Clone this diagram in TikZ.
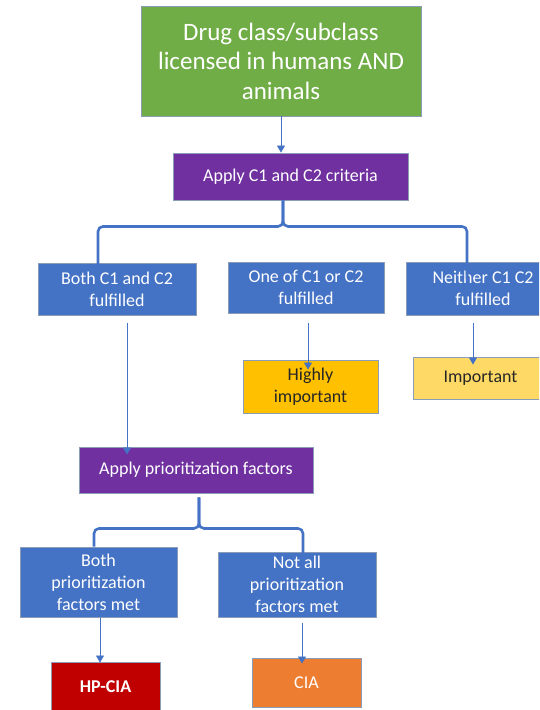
\documentclass[tikz,border=0pt]{standalone}
\usepackage{fontspec}
\setmainfont{Carlito}
\usepackage{tikz}
\usetikzlibrary{arrows.meta,positioning}
\definecolor{startG}{HTML}{70AD47}
\definecolor{stepP}{HTML}{7030A0}
\definecolor{caseB}{HTML}{4472C4}
\definecolor{edgeB}{HTML}{8A9CB8}
\definecolor{hiO}{HTML}{FFC000}
\definecolor{impY}{HTML}{FFD966}
\definecolor{hpR}{HTML}{C00000}
\definecolor{ciaO}{HTML}{ED7D31}

\begin{document}
\begin{tikzpicture}[x=1pt, y=-1pt, >={Triangle[length=7pt,width=8pt]},
  box/.style={rectangle, draw=edgeB, line width=0.9pt, align=center, inner sep=2pt,
              text=white, font=\fontsize{18}{22}\selectfont},
  start/.style={box, fill=startG, font=\fontsize{25}{29.5}\selectfont},
  apply/.style={box, fill=stepP},
  cond/.style={box, fill=caseB},
  result/.style={box, text=black!85},
  flow/.style={->, caseB, line width=0.8pt},
  brack/.style={caseB, line width=2.6pt, rounded corners=5pt}]
  \useasboundingbox (0,0) rectangle (539,710);
  \clip (0,0) rectangle (539,710);
  % top level
  \node[start, minimum width=280pt, minimum height=110pt] (drug) at (281,61)
    {Drug class/subclass\\licensed in humans AND\\animals};
  \node[apply, minimum width=235pt, minimum height=47pt] (crit) at (290.5,176.5)
    {Apply C1 and C2 criteria};
  \node[cond, minimum width=158pt, minimum height=52pt] (both) at (117,289)
    {Both C1 and C2\\fulfilled};
  \node[cond, minimum width=156pt, minimum height=51pt] (one) at (306,287.5)
    {One of C1 or C2\\fulfilled};
  \node[cond, minimum width=154pt, minimum height=53pt] (none) at (483,288.5)
    {Neither C1 C2\\fulfilled};
  \node[result, fill=hiO, minimum width=135pt, minimum height=53pt] (high) at (310.5,386.5)
    {Highly\\important};
  \node[result, fill=impY, minimum width=135pt, minimum height=42pt] (imp) at (480.5,378)
    {Important};
  % prioritization
  \node[apply, minimum width=234pt, minimum height=46pt] (prio) at (196,470)
    {Apply prioritization factors};
  \node[cond, minimum width=157pt, minimum height=70pt] (met) at (98.5,582)
    {Both\\prioritization\\factors met};
  \node[cond, minimum width=158pt, minimum height=65pt] (notmet) at (297,584.5)
    {Not all\\prioritization\\factors met};
  \node[box, fill=hpR, minimum width=109pt, minimum height=50pt] (hpcia) at (105.5,687)
    {\textbf{HP-CIA}};
  \node[box, fill=ciaO, minimum width=109pt, minimum height=49pt] (cia) at (306.5,682.5)
    {CIA};
  % brackets
  \coordinate (c1) at ([xshift=-7.5pt]crit.south);
  \coordinate (c1l) at ([xshift=-19pt,yshift=-18pt]both.north);
  \coordinate (c1r) at ([xshift=-16pt,yshift=-17pt]none.north);
  \draw[brack] (c1) -- ++(0,26) -| (c1l);
  \draw[brack] (c1) -- ++(0,26) -| (c1r);
  \coordinate (c2) at ([xshift=3pt,yshift=-4pt]prio.south);
  \coordinate (c2l) at ([xshift=-4.5pt]met.north);
  \coordinate (c2r) at ([xshift=6pt,yshift=-5pt]notmet.north);
  \draw[brack] (c2) -- ++(0,31) -| (c2l);
  \draw[brack] (c2) -- ++(0,31) -| (c2r);
  % arrows
  \draw[flow] (drug.south) -- (drug.south |- crit.north);
  \draw[flow] ([xshift=10pt,yshift=-8pt]both.south) -- ([xshift=10pt,yshift=-8pt]both.south |- prio.north);
  \draw[flow] ([xshift=2pt,yshift=-10pt]one.south) -- ([xshift=2pt,yshift=-10pt]one.south |- high.north);
  \draw[flow] ([xshift=-10pt,yshift=-8pt]none.south) -- ([xshift=-10pt,yshift=-8pt]none.south |- imp.north);
  \draw[flow] ([xshift=1.5pt,yshift=-1pt]met.south) -- ([xshift=1.5pt,yshift=-1pt]met.south |- hpcia.north);
  \draw[flow] ([xshift=5pt,yshift=-6pt]notmet.south) -- ([xshift=5pt,yshift=-6pt]notmet.south |- cia.north);
\end{tikzpicture}
\end{document}
